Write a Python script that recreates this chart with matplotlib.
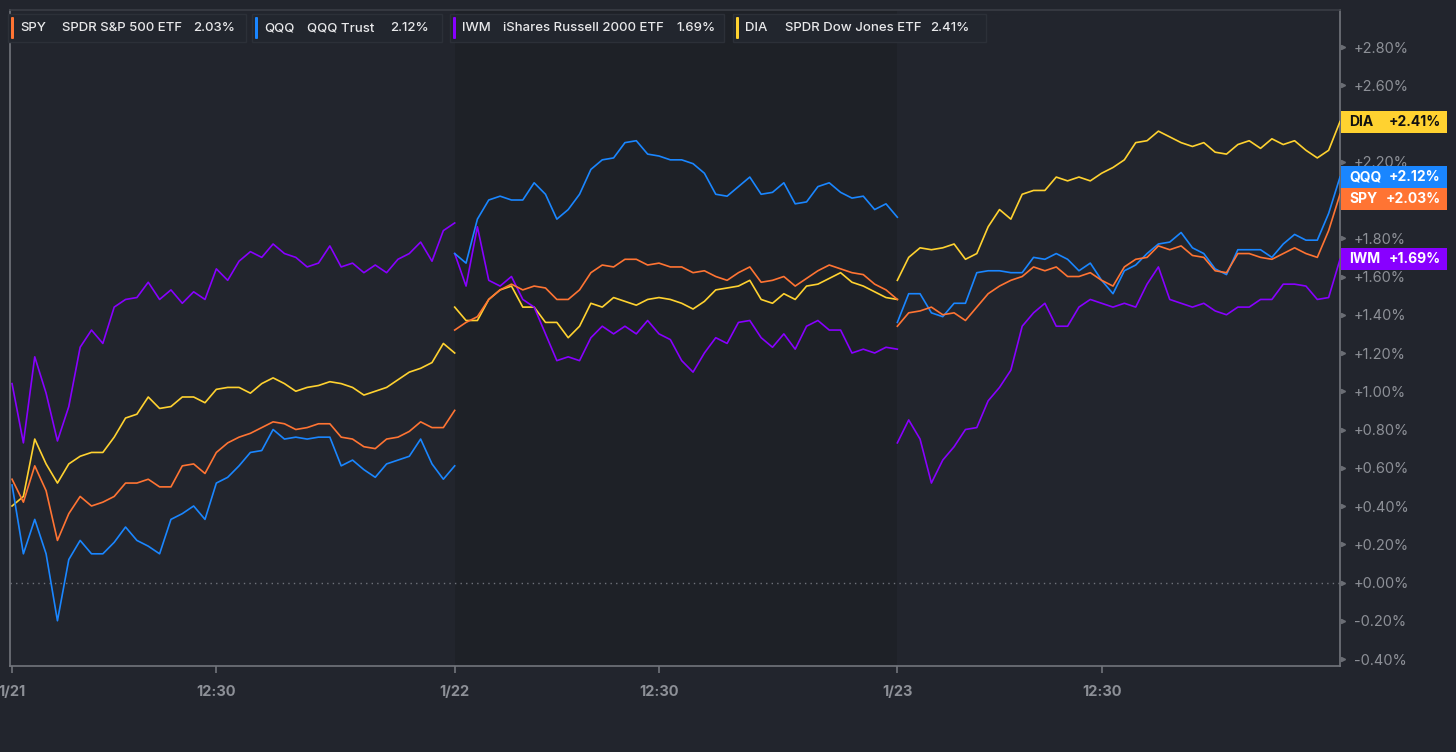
import matplotlib
matplotlib.use("Agg")
import matplotlib.pyplot as plt
import matplotlib.transforms as mtransforms
from matplotlib.patches import Rectangle, FancyBboxPatch
import numpy as np

plt.rcParams['font.family'] = ['Inter', 'DejaVu Sans']

# % change vs. first print, sampled every 10 minutes of each session (9:30-16:00)
minutes = np.arange(0, 391, 10)

spy_day1 = [0.54, 0.42, 0.61, 0.48, 0.22, 0.36, 0.45, 0.40, 0.42, 0.45,
            0.52, 0.52, 0.54, 0.50, 0.50, 0.61, 0.62, 0.57, 0.68, 0.73,
            0.76, 0.78, 0.81, 0.84, 0.83, 0.80, 0.81, 0.83, 0.83, 0.76,
            0.75, 0.71, 0.70, 0.75, 0.76, 0.79, 0.84, 0.81, 0.81, 0.90]
spy_day2 = [1.32, 1.36, 1.39, 1.48, 1.53, 1.56, 1.53, 1.55, 1.54, 1.48,
            1.48, 1.53, 1.62, 1.66, 1.65, 1.69, 1.69, 1.66, 1.67, 1.65,
            1.65, 1.62, 1.63, 1.60, 1.58, 1.62, 1.65, 1.57, 1.58, 1.60,
            1.55, 1.59, 1.63, 1.66, 1.64, 1.62, 1.61, 1.56, 1.53, 1.48]
spy_day3 = [1.34, 1.41, 1.42, 1.44, 1.40, 1.41, 1.37, 1.44, 1.51, 1.55,
            1.58, 1.60, 1.65, 1.63, 1.65, 1.60, 1.60, 1.62, 1.58, 1.55,
            1.65, 1.69, 1.70, 1.76, 1.74, 1.76, 1.71, 1.70, 1.63, 1.62,
            1.72, 1.72, 1.70, 1.69, 1.72, 1.75, 1.72, 1.70, 1.84, 2.03]

qqq_day1 = [0.51, 0.15, 0.33, 0.15, -0.20, 0.12, 0.22, 0.15, 0.15, 0.21,
            0.29, 0.22, 0.19, 0.15, 0.33, 0.36, 0.40, 0.33, 0.52, 0.55,
            0.61, 0.68, 0.69, 0.80, 0.75, 0.76, 0.75, 0.76, 0.76, 0.61,
            0.64, 0.59, 0.55, 0.62, 0.64, 0.66, 0.75, 0.62, 0.54, 0.61]
qqq_day2 = [1.72, 1.67, 1.90, 2.00, 2.02, 2.00, 2.00, 2.09, 2.03, 1.90,
            1.95, 2.03, 2.16, 2.21, 2.22, 2.30, 2.31, 2.24, 2.23, 2.21,
            2.21, 2.19, 2.14, 2.03, 2.02, 2.07, 2.12, 2.03, 2.04, 2.09,
            1.98, 1.99, 2.07, 2.09, 2.04, 2.01, 2.02, 1.95, 1.98, 1.91]
qqq_day3 = [1.36, 1.51, 1.51, 1.41, 1.39, 1.46, 1.46, 1.62, 1.63, 1.63,
            1.62, 1.62, 1.70, 1.69, 1.72, 1.69, 1.63, 1.67, 1.58, 1.51,
            1.63, 1.66, 1.72, 1.77, 1.78, 1.83, 1.75, 1.72, 1.64, 1.61,
            1.74, 1.74, 1.74, 1.70, 1.77, 1.82, 1.79, 1.79, 1.93, 2.12]

iwm_day1 = [1.04, 0.73, 1.18, 0.99, 0.74, 0.92, 1.23, 1.32, 1.25, 1.44,
            1.48, 1.49, 1.57, 1.48, 1.53, 1.46, 1.52, 1.48, 1.64, 1.58,
            1.68, 1.73, 1.70, 1.77, 1.72, 1.70, 1.65, 1.67, 1.76, 1.65,
            1.67, 1.62, 1.66, 1.62, 1.69, 1.72, 1.78, 1.68, 1.84, 1.88]
iwm_day2 = [1.72, 1.55, 1.86, 1.58, 1.55, 1.60, 1.48, 1.44, 1.30, 1.16,
            1.18, 1.16, 1.28, 1.34, 1.30, 1.34, 1.30, 1.37, 1.30, 1.27,
            1.16, 1.10, 1.20, 1.28, 1.25, 1.36, 1.37, 1.28, 1.23, 1.30,
            1.22, 1.34, 1.37, 1.32, 1.32, 1.20, 1.22, 1.20, 1.23, 1.22]
iwm_day3 = [0.73, 0.85, 0.75, 0.52, 0.64, 0.71, 0.80, 0.81, 0.95, 1.02,
            1.11, 1.34, 1.41, 1.46, 1.34, 1.34, 1.44, 1.48, 1.46, 1.44,
            1.46, 1.44, 1.56, 1.65, 1.48, 1.46, 1.44, 1.46, 1.42, 1.40,
            1.44, 1.44, 1.48, 1.48, 1.56, 1.56, 1.55, 1.48, 1.49, 1.69]

dia_day1 = [0.40, 0.45, 0.75, 0.62, 0.52, 0.62, 0.66, 0.68, 0.68, 0.76,
            0.86, 0.88, 0.97, 0.91, 0.92, 0.97, 0.97, 0.94, 1.01, 1.02,
            1.02, 0.99, 1.04, 1.07, 1.04, 1.00, 1.02, 1.03, 1.05, 1.04,
            1.02, 0.98, 1.00, 1.02, 1.06, 1.10, 1.12, 1.15, 1.25, 1.20]
dia_day2 = [1.44, 1.37, 1.37, 1.48, 1.53, 1.55, 1.44, 1.44, 1.36, 1.36,
            1.28, 1.34, 1.46, 1.44, 1.49, 1.47, 1.45, 1.48, 1.49, 1.48,
            1.46, 1.43, 1.47, 1.53, 1.54, 1.55, 1.58, 1.48, 1.46, 1.51,
            1.48, 1.55, 1.56, 1.59, 1.62, 1.57, 1.55, 1.52, 1.49, 1.48]
dia_day3 = [1.58, 1.70, 1.75, 1.74, 1.75, 1.77, 1.69, 1.72, 1.86, 1.95,
            1.90, 2.03, 2.05, 2.05, 2.12, 2.10, 2.12, 2.10, 2.14, 2.17,
            2.21, 2.30, 2.31, 2.36, 2.33, 2.30, 2.28, 2.30, 2.25, 2.24,
            2.29, 2.31, 2.27, 2.32, 2.29, 2.31, 2.26, 2.22, 2.26, 2.41]

tickers = ['SPY', 'QQQ', 'IWM', 'DIA']
names = ['SPDR S&P 500 ETF', 'QQQ Trust', 'iShares Russell 2000 ETF', 'SPDR Dow Jones ETF']
colors = ['#ff7433', '#1a86ff', '#8800ff', '#ffd230']
label_text = ['white', 'white', 'white', '#111111']
series = {
    'SPY': [spy_day1, spy_day2, spy_day3],
    'QQQ': [qqq_day1, qqq_day2, qqq_day3],
    'IWM': [iwm_day1, iwm_day2, iwm_day3],
    'DIA': [dia_day1, dia_day2, dia_day3],
}

xtick_pos = [0, 180, 390, 570, 780, 960]
xtick_labels = ['1/21', '12:30', '1/22', '12:30', '1/23', '12:30']
ytick_pos = [-0.4, -0.2, 0.0, 0.2, 0.4, 0.6, 0.8, 1.0, 1.2, 1.4, 1.6, 1.8,
             2.0, 2.2, 2.4, 2.6, 2.8]

bg = '#22252d'
bg_dark = '#1e2127'
grey = '#8d9097'
spine = '#72757c'

W, H = 1456, 752
fig = plt.figure(figsize=(W / 100, H / 100), dpi=100, facecolor=bg)
ax = fig.add_axes([10 / W, 86 / H, 1330 / W, 656 / H])
ax.set_facecolor(bg)

ax.axvspan(390, 780, color=bg_dark, zorder=0, lw=0)
ax.axhline(0, color='#6f727a', lw=1, ls=(0, (1, 3)), zorder=1)

# draw in reverse so SPY ends up on top like the reference
for tk, col in reversed(list(zip(tickers, colors))):
    for d, vals in enumerate(series[tk]):
        ax.plot(minutes + d * 390, vals, color=col, lw=1.2, zorder=3)

ax.set_xlim(-1.8, 1170)
ax.set_ylim(-0.4366, 2.9935)

for s in ['left', 'bottom', 'right', 'top']:
    ax.spines[s].set_color(spine)
    ax.spines[s].set_linewidth(1.2)
ax.spines['top'].set_color('#3a3d44')

ax.set_xticks(xtick_pos)
ax.set_xticklabels(xtick_labels, fontsize=10.5, fontweight='bold', color=grey)
ax.tick_params(axis='x', length=5, width=1.2, color=spine, pad=9)

# end-of-line value tags on the right axis
px_per_unit = 656 / (2.9935 + 0.4366)
box_h = 22 / px_per_unit
finals = [series[tk][2][-1] for tk in tickers]
order = sorted(range(4), key=lambda i: -finals[i])
tag_y = {}
prev = None
for i in order:
    y = finals[i]
    if prev is not None and prev - y < box_h:
        y = prev - box_h
    tag_y[i] = y
    prev = y

# tick labels that sit fully under a tag are not shown
def covered(v):
    return any(abs(v - y) < box_h * 0.5 for y in tag_y.values())

ax.yaxis.tick_right()
ax.set_yticks(ytick_pos)
ax.set_yticklabels(['' if covered(v) else ('%+.2f%%' % v if v != 0 else '+0.00%')
                    for v in ytick_pos], fontsize=10.5, color=grey)
ax.tick_params(axis='y', length=0, pad=10)
trans = mtransforms.blended_transform_factory(ax.transAxes, ax.transData)
ax.plot([1.0025] * len(ytick_pos), ytick_pos, '>', ms=3, color='#6a6d74',
        transform=trans, clip_on=False, zorder=4)

box_w = 106 / 1330
for i in order:
    y = tag_y[i]
    ax.add_patch(Rectangle((1.001, y - box_h / 2), box_w, box_h, transform=trans,
                           facecolor=colors[i], edgecolor='none', clip_on=False, zorder=5))
    ax.text(1.007, y, tickers[i], transform=trans, ha='left', va='center',
            fontsize=10, fontweight='bold', color=label_text[i], zorder=6)
    ax.text(1.001 + box_w - 0.005, y, '%+.2f%%' % finals[i], transform=trans,
            ha='right', va='center', fontsize=10, fontweight='bold',
            color=label_text[i], zorder=6)

# legend strip at the top
def fx(x):
    return x / W

def fy(y):
    return 1 - y / H

boxes = [(8, 246), (252, 442), (450, 724), (733, 986)]
name_x = [62, 307, 503, 785]
pct_x = [193, 390, 676, 930]
for i, tk in enumerate(tickers):
    x0, x1 = boxes[i]
    fig.patches.append(Rectangle((fx(x0), fy(42)), fx(x1 - x0), 28 / H,
                                 transform=fig.transFigure, facecolor='#22262e',
                                 edgecolor='#2c3038', lw=1, zorder=10))
    fig.patches.append(FancyBboxPatch((fx(x0 + 3), fy(39)), fx(3), 22 / H,
                                      boxstyle='round,pad=0,rounding_size=0.001',
                                      transform=fig.transFigure, facecolor=colors[i],
                                      edgecolor='none', zorder=11))
    for tx, s in [(x0 + 12, tk), (name_x[i], names[i]), (pct_x[i], '%.2f%%' % finals[i])]:
        fig.text(fx(tx), fy(28), s, ha='left', va='center', fontsize=9.5,
                 color='#e8e8ea', fontweight='medium', zorder=12)

fig.savefig('out.png', dpi=100, facecolor=bg)
plt.close(fig)
